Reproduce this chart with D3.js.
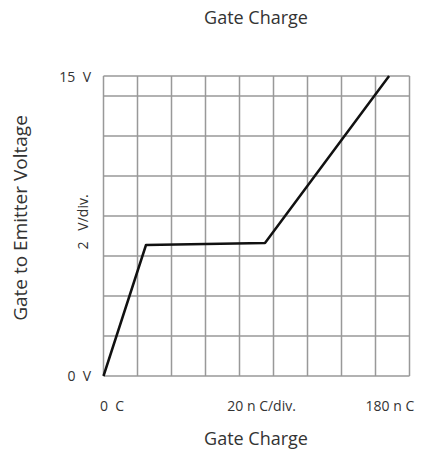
<!DOCTYPE html>
<html>
<head>
<meta charset="utf-8">
<script src="https://cdn.jsdelivr.net/npm/d3@7"></script>
<style>
  body { margin: 0; background: #fff; }
  text { font-family: "Open Sans", sans-serif; fill: #333; white-space: pre; }
</style>
</head>
<body>
<div id="chart"></div>
<script>
var width = 423;
var height = 450;

// gate charge curve (nC, V)
var charge = [0, 25, 95, 168];
var voltage = [0, 6.55, 6.65, 15];

var xGrid = d3.range(0, 181, 20);
var yGrid = d3.range(0, 15, 2).concat([15]);

// bottom labels, placed at their charge value
var xLabels = [5, 93, 168.5];
var xLabelText = ["0  C", "20 n C/div.", "180 n C"];

var margin = {top: 76, left: 103.5, right: 13.5, bottom: 74};

var svg = d3.select("#chart")
            .append("svg")
            .attr("width", width)
            .attr("height", height);

var xScale = d3.scaleLinear()
               .domain([0, 180])
               .range([margin.left, width - margin.right]);

var yScale = d3.scaleLinear()
               .domain([0, 15])
               .range([height - margin.bottom, margin.top]);

// grid
svg.append("g")
   .selectAll("line")
   .data(xGrid)
   .enter()
   .append("line")
   .attr("x1", function(d){ return xScale(d); })
   .attr("x2", function(d){ return xScale(d); })
   .attr("y1", yScale(0))
   .attr("y2", yScale(15))
   .attr("stroke", "#999")
   .attr("stroke-width", 1.5);

svg.append("g")
   .selectAll("line")
   .data(yGrid)
   .enter()
   .append("line")
   .attr("y1", function(d){ return yScale(d); })
   .attr("y2", function(d){ return yScale(d); })
   .attr("x1", xScale(0))
   .attr("x2", xScale(180))
   .attr("stroke", "#999")
   .attr("stroke-width", 1.5);

// curve
var pts = charge.map(function(c, i){ return [c, voltage[i]]; });
var line = d3.line()
             .x(function(d){ return xScale(d[0]); })
             .y(function(d){ return yScale(d[1]); });

svg.append("path")
   .datum(pts)
   .attr("d", line)
   .attr("fill", "none")
   .attr("stroke", "#111")
   .attr("stroke-width", 2.5)
   .attr("stroke-linejoin", "round");

// x labels
svg.selectAll(".xl")
   .data(xLabels)
   .enter()
   .append("text")
   .attr("class", "xl")
   .attr("x", function(d){ return xScale(d); })
   .attr("y", 411)
   .attr("text-anchor", "middle")
   .style("font-size", "14px")
   .text(function(d, i){ return xLabelText[i]; });

// y labels
svg.append("text").attr("x", 91).attr("y", yScale(15) + 6).attr("text-anchor", "end")
   .style("font-size", "14px").text("15  V");
svg.append("text").attr("x", 91).attr("y", yScale(0) + 5).attr("text-anchor", "end")
   .style("font-size", "14px").text("0  V");
svg.append("text")
   .attr("transform", "translate(" + 88 + "," + yScale(7.7) + ") rotate(-90)")
   .attr("text-anchor", "middle")
   .style("font-size", "14px").text("2   V/div.");

// titles
svg.append("text").attr("x", 256).attr("y", 24).attr("text-anchor", "middle")
   .style("font-size", "18px").text("Gate Charge");
svg.append("text").attr("x", 256).attr("y", 445).attr("text-anchor", "middle")
   .style("font-size", "18px").text("Gate Charge");
svg.append("text")
   .attr("transform", "translate(" + 27 + "," + 218 + ") rotate(-90)")
   .attr("text-anchor", "middle")
   .style("font-size", "19px").text("Gate to Emitter Voltage");
</script>
</body>
</html>
